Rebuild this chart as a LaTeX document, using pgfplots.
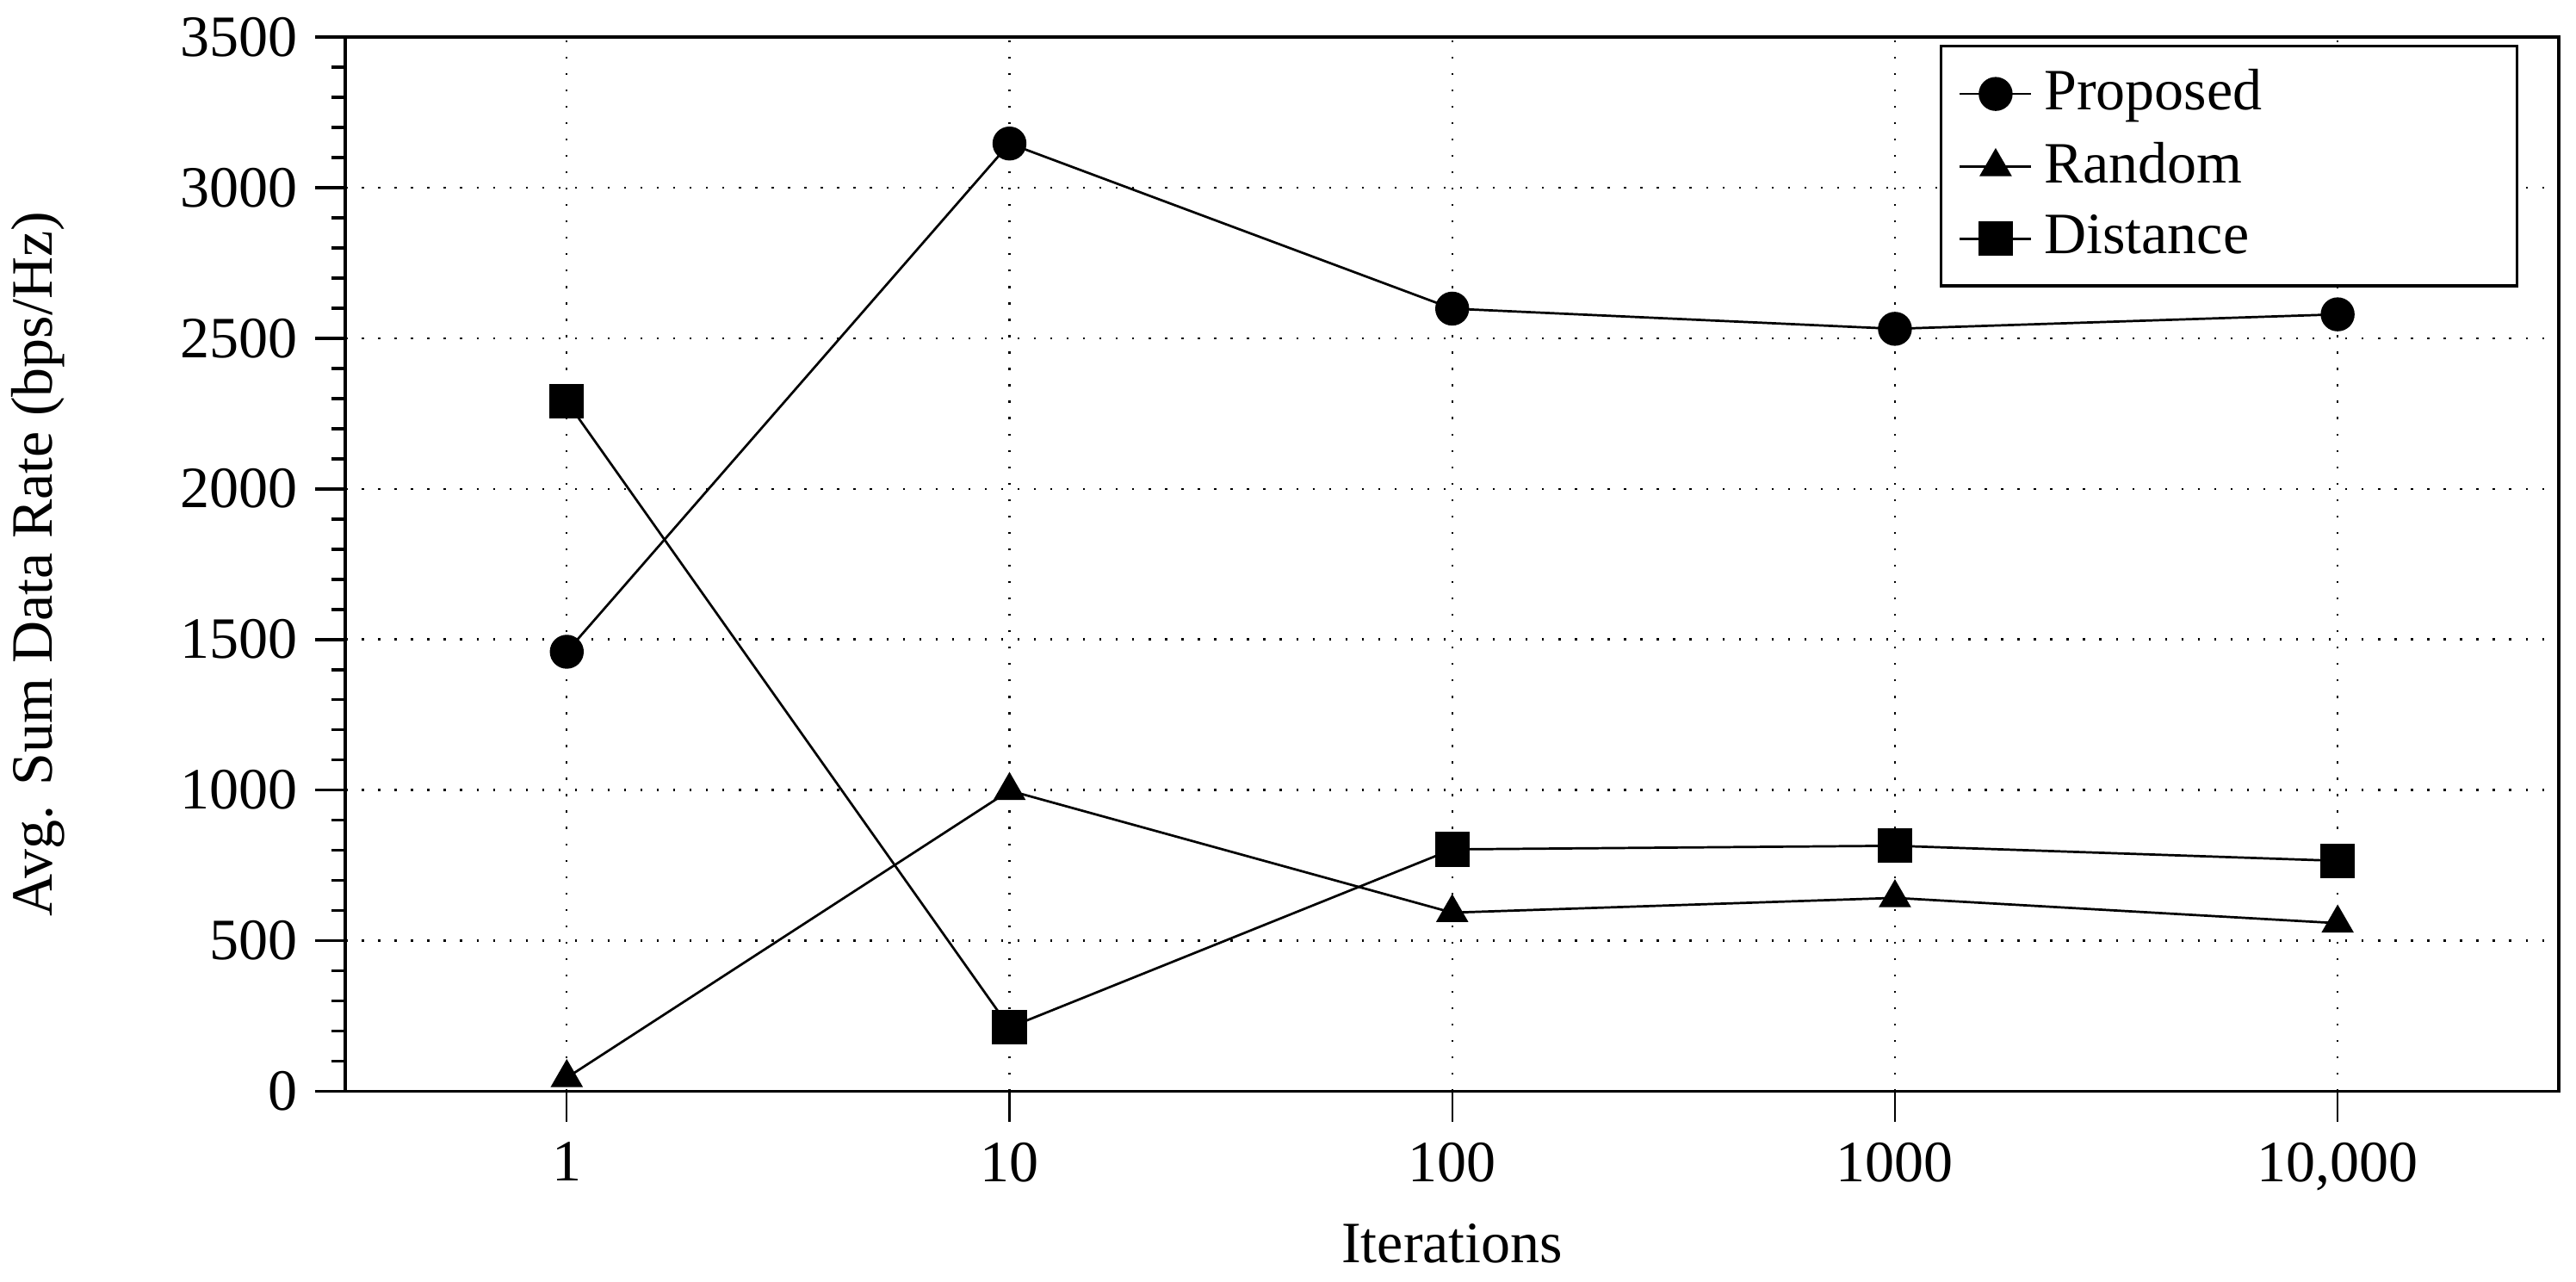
\documentclass[border=0pt]{standalone}
\usepackage{fontspec}
\setmainfont{Liberation Serif}
\usepackage{pgfplots}
\pgfplotsset{compat=1.18}
\begin{document}
\begin{tikzpicture}
\begin{axis}[
  at={(0,0)}, anchor=south west,
  width=378.1pt, height=180.1pt, scale only axis,
  xmin=-0.5, xmax=4.5, ymin=0, ymax=3500,
  xtick={0,1,2,3,4}, xticklabels={1,10,100,1000,{10,000}},
  ytick={0,500,...,3500},
  minor y tick num=4,
  tick pos=left,
  tick align=outside,
  major tick length=5.2pt,
  minor tick length=2.4pt,
  xtick style={line width=0.3pt, black},
  ytick style={line width=0.55pt, black},
  axis line style={line width=0.55pt, black},
  grid=major,
  major grid style={dash pattern=on 0.35pt off 2.45pt, line width=0.35pt, black},
  /pgf/number format/1000 sep={},
  /pgf/number format/assume math mode=true,
  yticklabel style={xshift=0.5pt},
  xlabel={Iterations},
  ylabel={Avg. Sum Data Rate (bps/Hz)},
  xlabel style={at={(axis description cs:0.5,0)}, anchor=base, yshift=-29.3pt},
  ylabel style={at={(axis description cs:-0.1325,0.5)}, anchor=base},
  legend cell align=left,
  legend style={at={(axis description cs:1,1)}, anchor=north east, xshift=-6.9pt, yshift=-1.3pt,
    draw=black, line width=0.45pt, fill=white},
  legend image code/.code={\draw[mark repeat=2,mark phase=2,#1] plot coordinates {(0pt,0pt) (6.1pt,0pt) (12.2pt,0pt)};},
]
\addplot[black, line width=0.4pt, mark=*, mark size=2.7pt, mark options={solid, fill=black}]
  coordinates {(0,1459) (1,3146) (2,2598) (3,2531) (4,2579)};
\addlegendentry{\makebox[75.8pt][l]{Proposed}}
\addplot[black, line width=0.4pt, mark=triangle*, mark size=2.8pt, mark options={solid, fill=black}]
  coordinates {(0,45) (1,998) (2,593) (3,642) (4,558)};
\addlegendentry{\makebox[75.8pt][l]{Random}}
\addplot[black, line width=0.4pt, mark=square*, mark size=2.75pt, mark options={solid, fill=black}]
  coordinates {(0,2290) (1,212) (2,803) (3,815) (4,765)};
\addlegendentry{\makebox[75.8pt][l]{Distance}}
\end{axis}
\pgfresetboundingbox
\path[use as bounding box] (-59pt,-32.5pt) rectangle (381pt,186.4pt);
\end{tikzpicture}
\end{document}
